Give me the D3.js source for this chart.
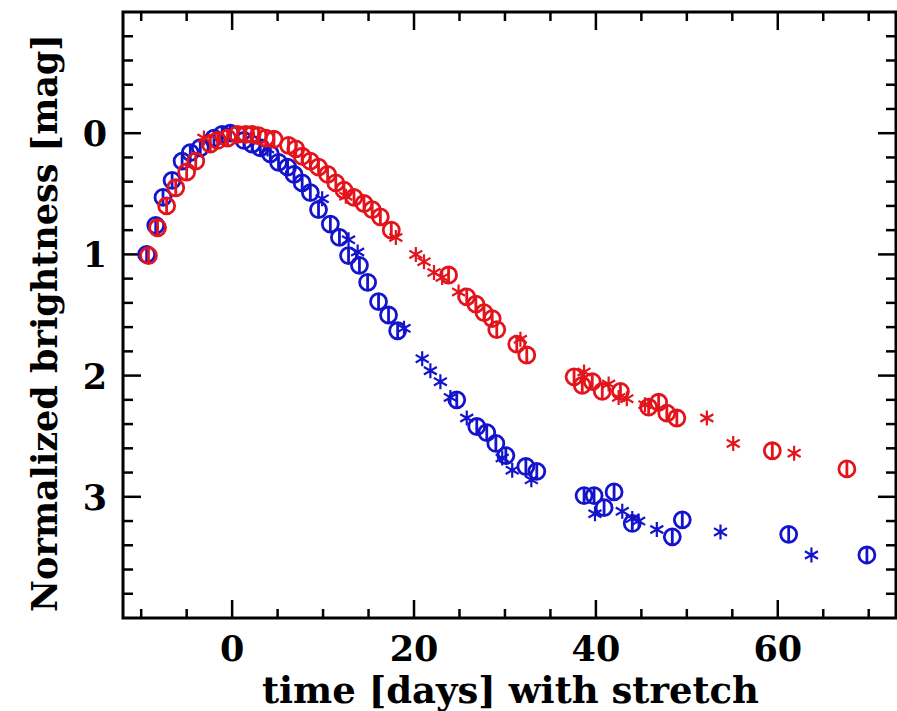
<!DOCTYPE html>
<html>
  <head>
    <meta charset="utf-8">
    <style>
      body { margin: 0; background: #fff; }
      text { font-family: "DejaVu Serif", serif; font-weight: bold; fill: #000; }
    </style>
  </head>
  <body>
    <svg width="897" height="711"></svg>
    <script src="https://d3js.org/d3.v7.min.js"></script>
    <script>
    // [days, mag]
    var redCircles = [[-9.2,1.01],[-8.2,0.78],[-7.2,0.6],[-6.2,0.45],[-5.0,0.32],[-4.0,0.23],[-2.4,0.09],[-1.6,0.06],
      [-0.5,0.04],[0.6,0.01],[1.5,0.01],[2.2,0.01],[2.9,0.02],[3.7,0.04],[4.6,0.05],[6.2,0.10],[7.0,0.13],[7.7,0.19],
      [8.6,0.23],[9.5,0.28],[10.5,0.34],[11.4,0.41],[12.3,0.47],[13.4,0.53],[14.5,0.58],[15.4,0.63],[16.3,0.69],
      [17.5,0.8],[23.8,1.17],[25.8,1.35],[26.8,1.41],[27.7,1.48],[28.6,1.53],[29.1,1.62],[31.3,1.74],[32.4,1.83],
      [37.6,2.01],[38.5,2.08],[39.6,2.05],[40.7,2.13],[42.7,2.13],[45.8,2.26],[46.9,2.22],[47.8,2.31],[48.9,2.35],
      [59.4,2.62],[67.6,2.77]];
    var redStars = [[-3.1,0.04],[12.5,0.52],[18.0,0.86],[20.2,1.0],[21.1,1.06],[22.2,1.15],[23.1,1.19],[24.9,1.31],
      [31.7,1.70],[38.7,1.97],[41.4,2.07],[42.5,2.18],[43.4,2.19],[45.4,2.24],[52.2,2.35],[55.1,2.56],[61.8,2.64]];
    var blueCircles = [[-9.4,1.0],[-8.4,0.76],[-7.6,0.53],[-6.6,0.39],[-5.5,0.23],[-4.6,0.16],[-3.5,0.12],[-2.0,0.04],
      [-1.1,0.01],[-0.2,0.0],[1.3,0.06],[2.2,0.09],[3.1,0.12],[4.2,0.17],[5.1,0.24],[6.1,0.28],[6.8,0.34],[7.7,0.41],
      [8.6,0.49],[9.5,0.63],[10.8,0.75],[11.8,0.86],[12.8,1.01],[14.0,1.09],[14.9,1.23],[16.1,1.39],[17.2,1.50],
      [18.2,1.63],[24.7,2.20],[26.9,2.42],[28.0,2.47],[29.0,2.56],[30.1,2.66],[32.3,2.75],[33.5,2.79],[38.7,2.99],
      [39.8,2.99],[40.9,3.09],[42.0,2.96],[44.0,3.22],[48.4,3.33],[49.5,3.19],[61.2,3.31],[69.8,3.48]];
    var blueStars = [[3.9,0.13],[9.9,0.54],[12.8,0.88],[13.8,0.98],[18.9,1.61],[20.9,1.86],[21.8,1.96],[22.9,2.05],
      [24.0,2.18],[25.8,2.35],[29.7,2.68],[30.8,2.78],[32.9,2.86],[39.9,3.14],[42.9,3.12],[44.0,3.18],[44.7,3.20],
      [46.7,3.27],[53.7,3.29],[63.7,3.48]];

    var xTicks = [0, 20, 40, 60];
    var yTicks = [0, 1, 2, 3];

    var svg = d3.select("svg"),
        margin = {top: 12, right: 1, bottom: 93, left: 123},
        w = +svg.attr("width") - margin.left - margin.right,
        h = +svg.attr("height") - margin.top - margin.bottom;

    var x = d3.scaleLinear().domain([-12, 73]).range([0, w]);
    var y = d3.scaleLinear().domain([-1, 4]).range([0, h]);

    var red = "#e3141c", blue = "#1414cc";

    var g = svg.append("g")
        .attr("transform", "translate(" + margin.left + "," + margin.top + ")");

    // ticks on all four sides, pointing in
    var xMinor = d3.range(-10, 73, 5), yMinor = d3.range(-0.8, 4, 0.2);

    var ticks = g.append("g").attr("stroke", "#000").attr("stroke-width", 2.5);
    xMinor.forEach(function(d) {
      var L = (Math.round(d) % 20 === 0) ? 18 : 9;
      ticks.append("line").attr("x1", x(d)).attr("x2", x(d)).attr("y1", h).attr("y2", h - L);
      ticks.append("line").attr("x1", x(d)).attr("x2", x(d)).attr("y1", 0).attr("y2", L);
    });
    yMinor.forEach(function(d) {
      var r = Math.round(d * 10) / 10;
      var L = (Math.abs(r - Math.round(r)) < 1e-6) ? 18 : 10;
      ticks.append("line").attr("y1", y(r)).attr("y2", y(r)).attr("x1", 0).attr("x2", L);
      ticks.append("line").attr("y1", y(r)).attr("y2", y(r)).attr("x1", w).attr("x2", w - L);
    });

    g.append("rect")
        .attr("width", w).attr("height", h)
        .attr("fill", "none").attr("stroke", "#000").attr("stroke-width", 3);

    // tick labels
    g.selectAll(".xl").data(xTicks).enter().append("text")
        .attr("x", function(d) { return x(d); })
        .attr("y", h + 43)
        .attr("text-anchor", "middle")
        .style("font-size", "35px")
        .text(function(d) { return d; });

    g.selectAll(".yl").data(yTicks).enter().append("text")
        .attr("x", -28)
        .attr("y", function(d) { return y(d) + 13; })
        .attr("text-anchor", "middle")
        .style("font-size", "35px")
        .text(function(d) { return d; });

    svg.append("text")
        .attr("x", margin.left + w / 2 + 1)
        .attr("y", 703)
        .attr("text-anchor", "middle")
        .style("font-size", "37px")
        .text("time [days] with stretch");

    svg.append("text")
        .attr("transform", "translate(57," + (margin.top + h / 2 + 8) + ") rotate(-90)")
        .attr("text-anchor", "middle")
        .style("font-size", "35px")
        .text("Normalized brightness [mag]");

    // markers
    var plot = g.append("g");
    function circles(data, col) {
      var s = plot.append("g").attr("stroke", col).attr("stroke-width", 2.8).attr("fill", "none");
      s.selectAll("circle").data(data).enter().append("circle")
          .attr("cx", function(d) { return x(d[0]); })
          .attr("cy", function(d) { return y(d[1]); })
          .attr("r", 8);
      s.selectAll("line").data(data).enter().append("line")
          .attr("x1", function(d) { return x(d[0]); })
          .attr("x2", function(d) { return x(d[0]); })
          .attr("y1", function(d) { return y(d[1]) - 8; })
          .attr("y2", function(d) { return y(d[1]) + 8; });
    }
    function stars(data, col) {
      var s = plot.append("g").attr("stroke", col).attr("stroke-width", 2.2).attr("fill", "none");
      s.selectAll("path").data(data).enter().append("path")
          .attr("d", function(d) {
            var cx = x(d[0]), cy = y(d[1]), a = 7.5, b = 6.5, c = 3.8;
            return "M" + cx + "," + (cy - a) + "L" + cx + "," + (cy + a) +
                   "M" + (cx - b) + "," + (cy - c) + "L" + (cx + b) + "," + (cy + c) +
                   "M" + (cx - b) + "," + (cy + c) + "L" + (cx + b) + "," + (cy - c);
          });
    }
    circles(blueCircles, blue);
    stars(blueStars, blue);
    circles(redCircles, red);
    stars(redStars, red);
    </script>
  </body>
</html>
